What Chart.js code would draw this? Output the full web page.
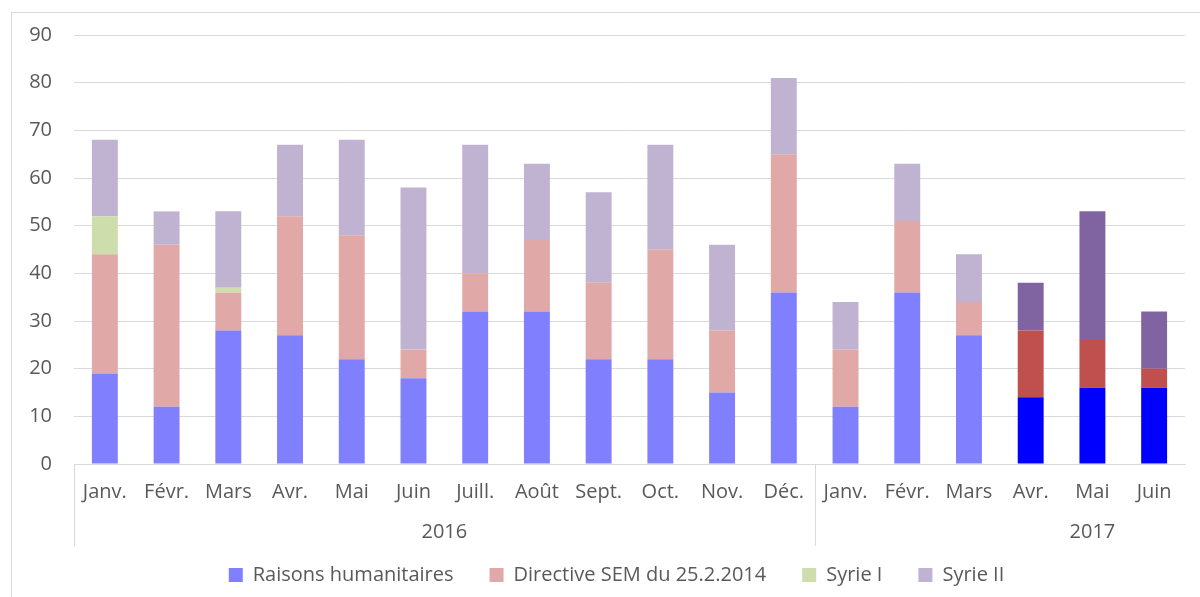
<!DOCTYPE html>
<html>
<head>
<meta charset="utf-8">
<script src="https://cdn.jsdelivr.net/npm/chart.js@4/dist/chart.umd.min.js"></script>
<style>
  html, body { margin:0; padding:0; background:#fff; overflow:hidden; }
  #frame { position:absolute; left:11px; top:12px; width:1300px; height:700px; border:1px solid #d9d9d9; }
  #wrap { position:absolute; left:0; top:0; width:1200px; height:597px; }
</style>
</head>
<body>
<div id="frame"></div>
<div id="wrap"><canvas id="chart" width="1200" height="597"></canvas></div>
<script>
const months = ["Janv.","Févr.","Mars","Avr.","Mai","Juin","Juill.","Août","Sept.","Oct.","Nov.","Déc.",
                "Janv.","Févr.","Mars","Avr.","Mai","Juin"];
const years = ["2016","2017"];
const yearSizes = [12, 6];

const humanitaires = [19,12,28,27,22,18,32,32,22,22,15,36, 12,36,27,14,16,16];
const directive    = [25,34, 8,25,26, 6, 8,15,16,23,13,29, 12,15, 7,14,10, 4];
const syrie1       = [ 8, 0, 1, 0, 0, 0, 0, 0, 0, 0, 0, 0,  0, 0, 0, 0, 0, 0];
const syrie2       = [16, 7,16,15,20,34,27,16,19,22,18,16, 10,12,10,10,27,12];

const yTicks = [0,10,20,30,40,50,60,70,80,90];

// last three months are drawn in full colour
const strongFrom = 15;
function colour(light, strong){
  return ctx => ctx.dataIndex >= strongFrom ? strong : light;
}

const textColor = "#595959";
const gridColor = "#d9d9d9";
const font = { family:"Open Sans", size:20 };

const yearPlugin = {
  id:"years",
  afterLayout(chart){
    // legend in the original sits a bit right of the canvas centre
    chart.legend.left += 24;
    chart.legend.right += 24;
  },
  afterDraw(chart){
    const x = chart.scales.x;
    const area = chart.chartArea;
    const c = chart.ctx;
    c.save();
    c.strokeStyle = gridColor;
    c.lineWidth = 1;
    let start = 0;
    let edges = [start];
    yearSizes.forEach(n => { start += n; edges.push(start); });
    // separators: left edge and between years
    [0, yearSizes[0]].forEach(i => {
      const px = Math.round(x.getPixelForValue(i - 0.5)) + 0.5;
      c.beginPath();
      c.moveTo(px, area.bottom);
      c.lineTo(px, area.bottom + 82);
      c.stroke();
    });
    c.fillStyle = textColor;
    c.font = font.size + "px " + font.family;
    c.textAlign = "center";
    c.textBaseline = "middle";
    // 2016 centred on its group, 2017 sits under its 5th month as in the original
    const at = [ (edges[0] + edges[1] - 1) / 2, edges[1] + 4 ];
    years.forEach((y, i) => {
      c.fillText(y, x.getPixelForValue(at[i]), area.bottom + 68);
    });
    c.restore();
  }
};

new Chart(document.getElementById("chart"), {
  type:"bar",
  data:{
    labels: months,
    datasets:[
      { label:"Raisons humanitaires", data:humanitaires, backgroundColor:colour("#8080ff","#0000ff") },
      { label:"Directive SEM du 25.2.2014", data:directive, backgroundColor:colour("#e0a8a6","#c0504d") },
      { label:"Syrie I", data:syrie1, backgroundColor:colour("#cdddac","#9bbb59") },
      { label:"Syrie II", data:syrie2, backgroundColor:colour("#c0b2d1","#8064a2") }
    ]
  },
  options:{
    responsive:false,
    animation:false,
    layout:{ padding:{ left:0, right:15, top:35, bottom:2 } },
    datasets:{ bar:{ barPercentage:0.42, categoryPercentage:1 } },
    plugins:{
      legend:{
        position:"bottom",
        labels:{ color:textColor, font:font, boxWidth:14, boxHeight:14, padding:36 }
      },
      tooltip:{ enabled:false },
      title:{ display:false }
    },
    scales:{
      x:{
        stacked:true,
        grid:{ display:false },
        border:{ display:true, color:gridColor, width:1 },
        ticks:{ color:textColor, font:font, padding:8, maxRotation:0, autoSkip:false },
        afterFit(s){ s.height = 65; }
      },
      y:{
        stacked:true,
        min:0, max:90,
        afterBuildTicks(s){ s.ticks = yTicks.map(v => ({ value:v })); },
        grid:{ color:gridColor, lineWidth:1, drawTicks:false },
        border:{ display:false },
        ticks:{ color:textColor, font:font, padding:22 },
        afterFit(s){ s.width = 74; }
      }
    }
  },
  plugins:[yearPlugin]
});
</script>
</body>
</html>
